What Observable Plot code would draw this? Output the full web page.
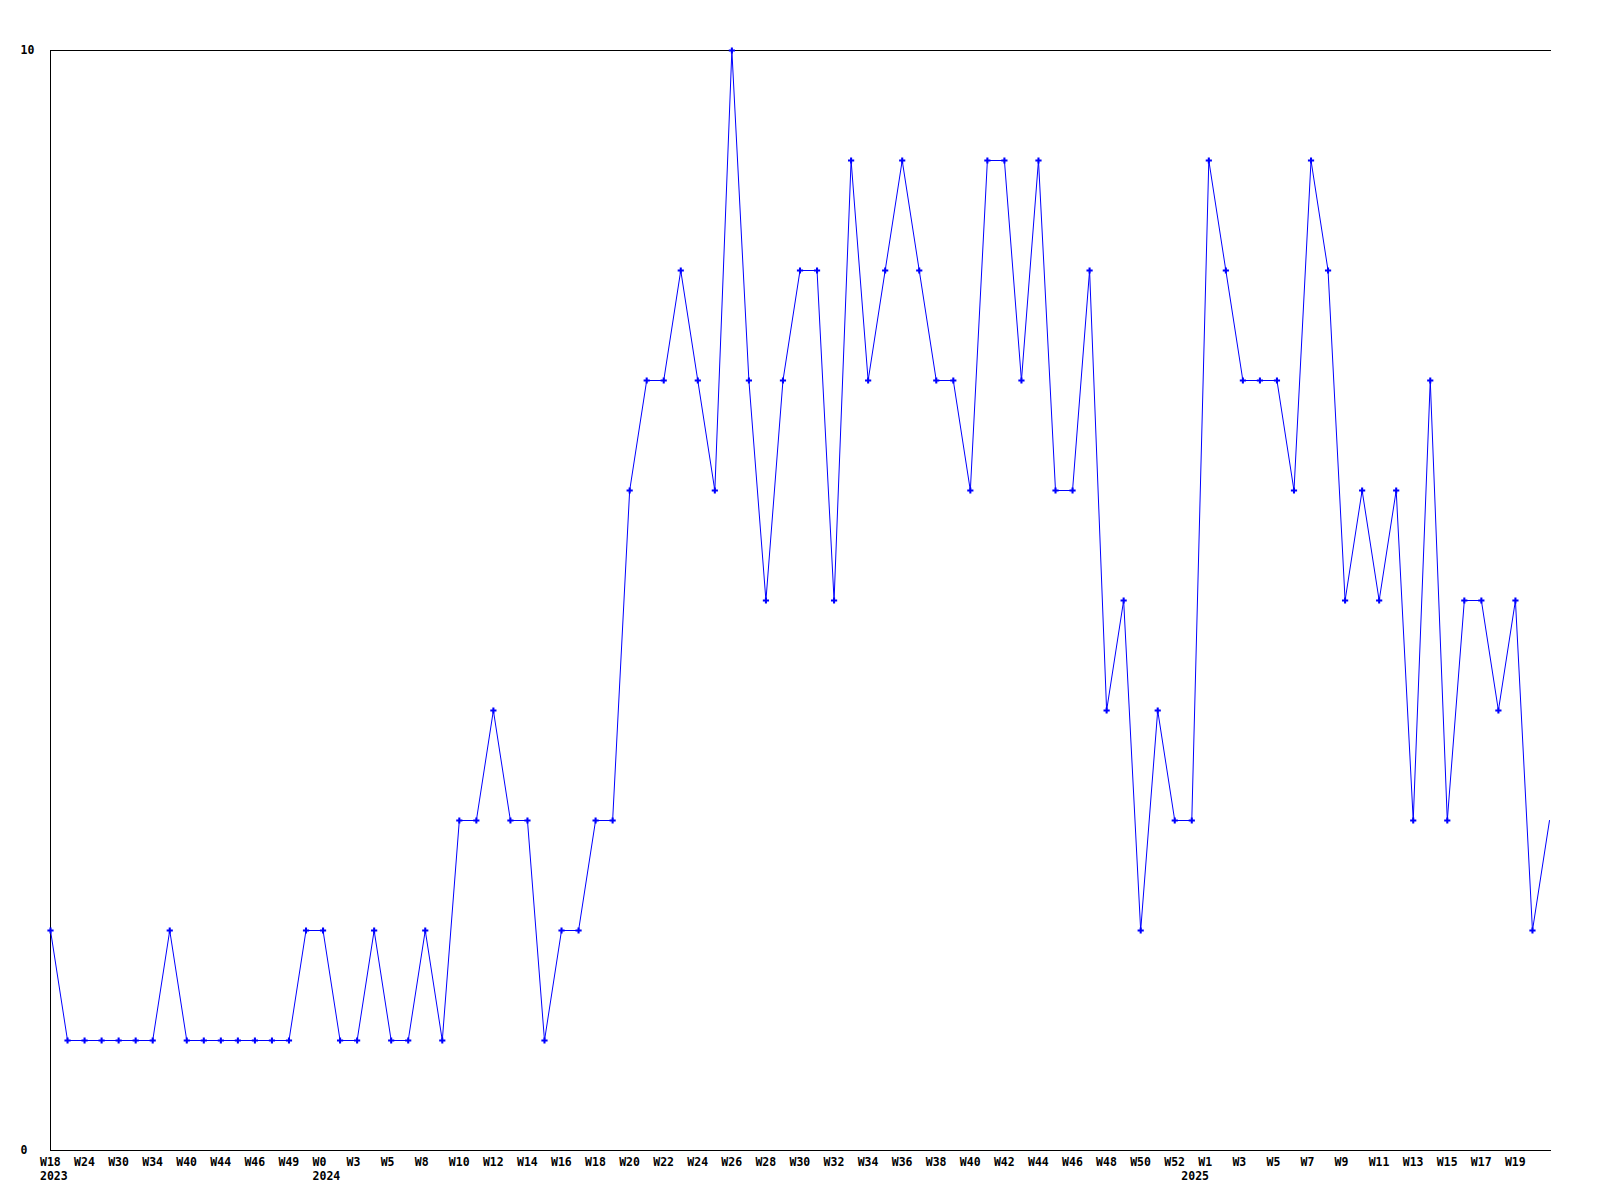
<!DOCTYPE html>
<html><head><meta charset="utf-8">
<script src="https://cdn.jsdelivr.net/npm/d3@7"></script>
<script src="https://cdn.jsdelivr.net/npm/@observablehq/plot@0.6"></script>
<style>body{margin:0;background:#fff}</style>
</head><body><div id="chart"></div>
<script>
// weekly values, one per point (index 0 .. 88)
const values = [
  2,1,1,1,1,1,1,2,1,1,1,1,1,1,1,2,2,1,1,2,1,1,2,1,
  3,3,4,3,3,1,2,2,3,3,6,7,7,8,7,6,10,7,5,7,8,8,5,9,
  7,8,9,8,7,7,6,9,9,7,9,6,6,8,4,5,2,4,3,3,9,8,7,7,
  7,6,9,8,5,6,5,6,3,7,3,5,5,4,5,2,3
];
// week tick labels shown on every second point
const tickLabels = [
  "W18","W24","W30","W34","W40","W44","W46","W49",
  "W0","W3","W5","W8","W10","W12","W14","W16","W18","W20","W22","W24","W26","W28",
  "W30","W32","W34","W36","W38","W40","W42","W44","W46","W48","W50","W52",
  "W1","W3","W5","W7","W9","W11","W13","W15","W17","W19"
];
// year labels and the point index where each year starts
const yearNames = ["2023", "2024", "2025"];
const yearStartIndex = [0, 16, 67];
const yTicks = [0, 10];

const data = values.map((v, i) => ({i, v}));
const tickIdx = tickLabels.map((_, k) => 2 * k);
const years = yearNames.map((y, k) => ({i: yearStartIndex[k], year: y}));
const last = values.length - 1;

const chart = Plot.plot({
  width: 1600,
  height: 1200,
  marginLeft: 50,
  marginRight: 51,
  marginTop: 50,
  marginBottom: 50,
  style: {fontFamily: "'DejaVu Sans Mono', monospace", fontSize: "11.5px", fontWeight: "bold", background: "#fff", color: "#000"},
  x: {domain: [0, last], label: null},
  y: {domain: [0, 10], label: null},
  marks: [
    Plot.axisX({
      ticks: tickIdx, tickSize: 0, tickPadding: 7, label: null,
      textAnchor: "start", dx: -10.5,
      tickFormat: i => tickLabels[Math.round(i / 2)]
    }),
    Plot.text(years, {x: "i", text: "year", frameAnchor: "bottom", lineAnchor: "top", dy: 21, dx: -10.5, textAnchor: "start", fill: "#000"}),
    Plot.axisY({ticks: yTicks, tickSize: 0, tickPadding: 0, dx: -30, textAnchor: "start", label: null, tickFormat: d => String(d)}),
    Plot.ruleY(yTicks, {stroke: "#000", strokeWidth: 1, insetRight: -2}),
    Plot.ruleX([0], {stroke: "#000", strokeWidth: 1}),
    Plot.lineY(data, {x: "i", y: "v", stroke: "#0000ff", strokeWidth: 1}),
    Plot.dot(data, {x: "i", y: "v", filter: d => d.i < last, symbol: "cross", r: 2.6, fill: "#0000ff"})
  ]
});
document.getElementById("chart").appendChild(chart);
</script>
</body></html>
